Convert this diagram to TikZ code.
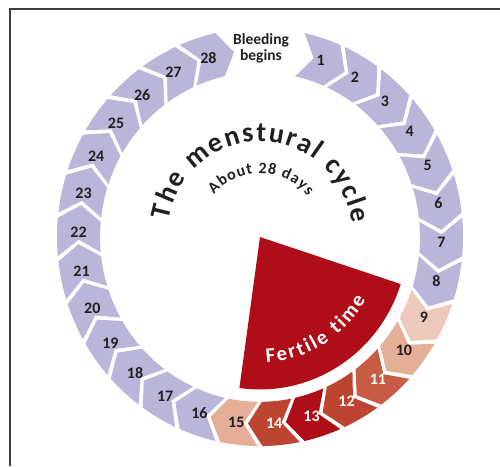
\documentclass[tikz,border=0pt]{standalone}
\usepackage{fontspec}
\setmainfont{Carlito}
\usetikzlibrary{decorations.text}

\definecolor{lav}{HTML}{BAB6DA}
\definecolor{fertA}{HTML}{EDC9BB}
\definecolor{fertB}{HTML}{E4AE97}
\definecolor{fertC}{HTML}{C65C43}
\definecolor{fertD}{HTML}{BD4431}
\definecolor{fertred}{HTML}{AF0E18}
\definecolor{ink}{HTML}{231F20}
\definecolor{frameline}{HTML}{3C3C3C}

\begin{document}
\begin{tikzpicture}[x=1pt, y=1.03pt,
	daynum/.style={font=\bfseries\fontsize{16}{16}\selectfont, inner sep=0pt},
	boxline/.style={draw=frameline, line width=1.2pt}]
	\useasboundingbox (-260pt,-229pt) rectangle (240pt,237pt);
	\draw[boxline] (-250pt,-229pt) -- (-250pt,228pt) -- (240pt,228pt);
	% ring of days, clockwise from the top
	\foreach \k/\col/\tc in {1/lav/ink,2/lav/ink,3/lav/ink,4/lav/ink,5/lav/ink,6/lav/ink,7/lav/ink,
		8/lav/ink,9/fertA/ink,10/fertB/ink,11/fertC/white,12/fertD/white,13/fertred/white,14/fertD/white,
		15/fertB/ink,16/lav/ink,17/lav/ink,18/lav/ink,19/lav/ink,20/lav/ink,21/lav/ink,
		22/lav/ink,23/lav/ink,24/lav/ink,25/lav/ink,26/lav/ink,27/lav/ink,28/lav/ink} {
		\pgfmathsetmacro\a{89.3-12*\k}
		\pgfmathsetmacro\b{78.7-12*\k}
		\pgfmathsetmacro\an{\a-4.5}
		\pgfmathsetmacro\bn{\b-4.5}
		\pgfmathsetmacro\m{82.5-12*\k}
		\fill[\col] (\a:203) arc[start angle=\a, end angle=\b, radius=203] -- (\bn:181.5)
			-- (\b:160) arc[start angle=\b, end angle=\a, radius=160] -- (\an:181.5) -- cycle;
		\node[daynum, text=\tc] (d\k) at (\m:181.5) {\k};
	}
	\node[font=\bfseries\fontsize{15.5}{16}\selectfont, align=center, text=ink, inner sep=0pt] (bleed) at (1,183) {Bleeding\\begins};
	% fertile wedge
	\fill[fertred] (0,0) -- (-18:148) arc[start angle=-18, end angle=-98, radius=148] -- cycle;
	\path[decorate, decoration={text along path, text align=fit to path, text color=white,
		text={|\bfseries\fontsize{20.5}{20.5}\selectfont|Fertile time}}]
		(-87:122) arc[start angle=-87, end angle=-30, radius=122];
	% titles
	\path[decorate, decoration={text along path, text align=fit to path, text color=ink,
		text={|\bfseries\fontsize{28}{28}\selectfont|The menstural cycle}}]
		(170:93) arc[start angle=170, end angle=8, radius=93];
	\path[decorate, decoration={text along path, text align=fit to path, text color=ink,
		text={|\bfseries\fontsize{16}{16}\selectfont|About 28 days}}]
		(138:62) arc[start angle=138, end angle=40, radius=62];
\end{tikzpicture}
\end{document}
